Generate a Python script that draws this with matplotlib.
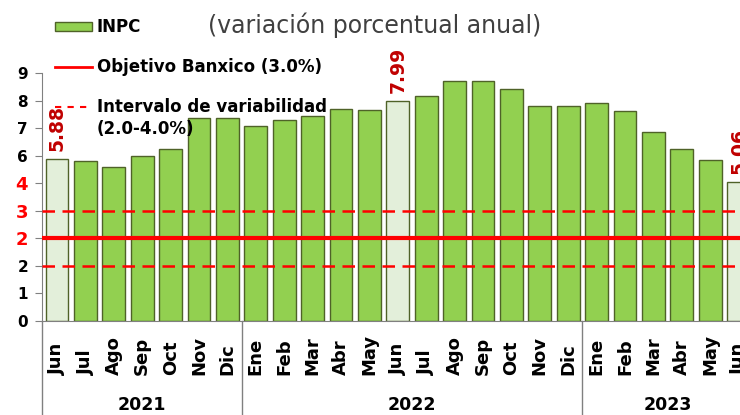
import matplotlib
matplotlib.use("Agg")
import matplotlib.pyplot as plt
from matplotlib.lines import Line2D

# Datos del INPC (variacion porcentual anual)
meses = ['Jun', 'Jul', 'Ago', 'Sep', 'Oct', 'Nov', 'Dic',
         'Ene', 'Feb', 'Mar', 'Abr', 'May', 'Jun', 'Jul', 'Ago', 'Sep', 'Oct', 'Nov', 'Dic',
         'Ene', 'Feb', 'Mar', 'Abr', 'May', 'Jun']
inpc = [5.88, 5.81, 5.59, 6.00, 6.24, 7.37, 7.36,
        7.07, 7.28, 7.45, 7.68, 7.65, 7.99, 8.15, 8.70, 8.70, 8.41, 7.80, 7.82,
        7.91, 7.62, 6.85, 6.25, 5.84, 5.06]
destacados = [0, 12, 24]  # meses de junio
anios = ['2021', '2022', '2023']
anio_centro = [3.0, 12.5, 21.5]
separadores = [-0.53, 6.5, 18.5]
objetivo = 3.0
intervalo = [2.0, 4.0]
yticks = list(range(10))
ytick_labels = ['0', '1', '2', '2', '3', '4', '6', '7', '8', '9']
ytick_rojos = [3, 4, 5]

verde = '#92D050'
verde_claro = '#E3EFDA'
borde = '#4F6228'
rojo = '#FF0000'
rojo_osc = '#C00000'

fig = plt.figure(figsize=(7.4, 4.15), dpi=100)
ax = fig.add_axes([42 / 740, 1 - 321 / 415, 1 - 42 / 740, (321 - 73) / 415])

x = list(range(len(inpc)))
colores = [verde_claro if i in destacados else verde for i in x]
ax.bar(x, inpc, width=0.8, color=colores, edgecolor=borde, linewidth=1.0, zorder=2)

ax.axhline(objetivo, color=rojo, lw=3, zorder=3)
for v in intervalo:
    ax.axhline(v, color=rojo, lw=1.8, ls=(0, (5, 3)), zorder=3)

for i in destacados:
    ax.text(i, inpc[i] + 0.28, f'{inpc[i]:.2f}', rotation=90, ha='center', va='bottom',
            color=rojo_osc, fontsize=13.5, fontweight='bold', zorder=4)

ax.set_xlim(-0.53, 24.05)
ax.set_ylim(0, 9)
ax.set_yticks(yticks)
ax.set_yticklabels(ytick_labels, fontsize=11, fontweight='bold')
for i, t in enumerate(ax.get_yticklabels()):
    if i in ytick_rojos:
        t.set_color(rojo)
        t.set_fontsize(13)
ax.tick_params(axis='y', length=5, color='#808080', pad=5)
ax.set_xticks([])

for s in ['top', 'right']:
    ax.spines[s].set_visible(False)
ax.spines['left'].set_color('#808080')
ax.spines['bottom'].set_color('#808080')

trans = ax.get_xaxis_transform()
# etiquetas de meses alineadas abajo
for i, m in zip(x, meses):
    ax.text(i, -0.218, m, transform=trans, rotation=90, ha='center', va='bottom',
            fontsize=13, fontweight='bold', clip_on=False)

# separadores de anio
for xs in separadores:
    ax.add_line(Line2D([xs, xs], [0, -0.5], transform=trans, color='#808080',
                       lw=1, clip_on=False))
for a, c in zip(anios, anio_centro):
    ax.text(c, -0.34, a, transform=trans, ha='center', va='center',
            fontsize=12.5, fontweight='bold')

# leyenda manual
fig.patches.append(plt.Rectangle((55 / 740, 1 - 31 / 415), 37 / 740, 9 / 415,
                                 transform=fig.transFigure, facecolor=verde,
                                 edgecolor=borde, lw=1))
fig.text(96 / 740, 1 - 27 / 415, 'INPC', fontsize=12, fontweight='bold', va='center')
fig.text(208 / 740, 1 - 25 / 415, '(variación porcentual anual)', fontsize=17,
         color='#404040', va='center')
fig.add_artist(Line2D([55 / 740, 92 / 740], [1 - 67 / 415] * 2, color=rojo, lw=2))
fig.text(97 / 740, 1 - 67 / 415, 'Objetivo Banxico (3.0%)', fontsize=12,
         fontweight='bold', va='center')
fig.add_artist(Line2D([55 / 740, 92 / 740], [1 - 107 / 415] * 2, color=rojo, lw=1.5,
                      ls=(0, (3, 3))))
fig.text(97 / 740, 1 - 107 / 415, 'Intervalo de variabilidad', fontsize=12,
         fontweight='bold', va='center')
fig.text(97 / 740, 1 - 129 / 415, '(2.0-4.0%)', fontsize=12, fontweight='bold',
         va='center')

fig.savefig('out.png', dpi=100)
